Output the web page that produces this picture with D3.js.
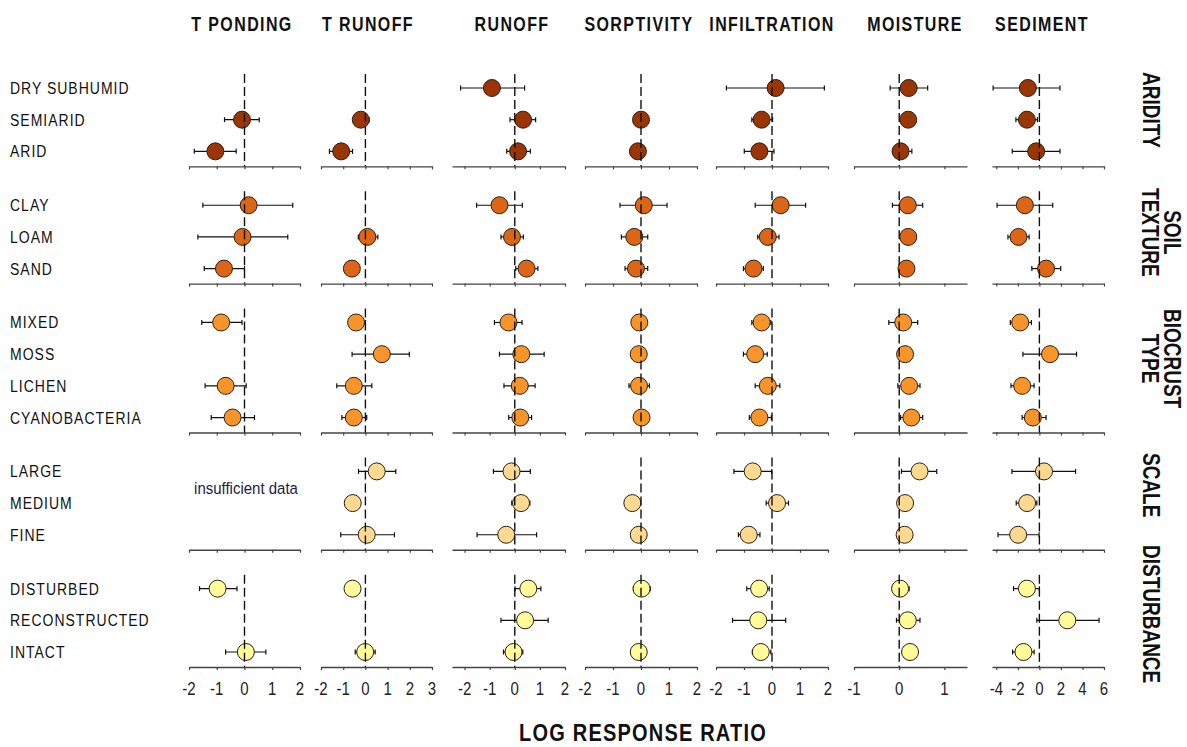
<!DOCTYPE html>
<html>
<head>
<meta charset="utf-8">
<script src="https://cdn.jsdelivr.net/npm/d3@7"></script>
<style>
  body { margin: 0; background: #fff; }
  text { font-family: "Liberation Sans", Arial, sans-serif; }
</style>
</head>
<body>
<script>
const width = 1187;
const height = 747;

// column (response variable) names
const columns = ["T PONDING", "T RUNOFF", "RUNOFF", "SORPTIVITY", "INFILTRATION", "MOISTURE", "SEDIMENT"];

// moderator groups and their levels
const groupNames = [["ARIDITY"], ["SOIL", "TEXTURE"], ["BIOCRUST", "TYPE"], ["SCALE"], ["DISTURBANCE"]];
const groupRows = [
  ["DRY SUBHUMID", "SEMIARID", "ARID"],
  ["CLAY", "LOAM", "SAND"],
  ["MIXED", "MOSS", "LICHEN", "CYANOBACTERIA"],
  ["LARGE", "MEDIUM", "FINE"],
  ["DISTURBED", "RECONSTRUCTED", "INTACT"]
];
const groupColors = ["#9a3506", "#dc6516", "#f7952a", "#fed98f", "#fffb99"];

// x domains and tick values for each column
const xDomains = [[-2, 2], [-2, 3], [-2.5, 2], [-2, 2], [-2, 2], [-1, 1.5], [-4.4, 6]];
const xTicks = [[-2, -1, 0, 1, 2], [-2, -1, 0, 1, 2, 3], [-2, -1, 0, 1, 2], [-2, -1, 0, 1, 2],
                [-2, -1, 0, 1, 2], [-1, 0, 1], [-4, -2, 0, 2, 4, 6]];

// [mean, lower, upper] per row (17 rows, same order as groupRows); null = no data
const tPonding = [
  null, [-0.09, -0.72, 0.53], [-1.05, -1.81, -0.30],
  [0.15, -1.50, 1.74], [-0.07, -1.68, 1.56], [-0.74, -1.45, 0.00],
  [-0.84, -1.54, -0.09], null, [-0.68, -1.42, 0.06], [-0.43, -1.20, 0.36],
  null, null, null,
  [-0.97, -1.62, -0.27], null, [0.05, -0.68, 0.77]
];
const tRunoff = [
  null, [-0.21, -0.54, 0.17], [-1.09, -1.62, -0.58],
  null, [0.09, -0.32, 0.56], [-0.61],
  [-0.42, -0.62, 0.00], [0.74, -0.60, 1.98], [-0.52, -1.29, 0.29], [-0.52, -1.06, 0.06],
  [0.51, -0.31, 1.37], [-0.57], [0.06, -1.11, 1.31],
  [-0.58], null, [-0.01, -0.46, 0.44]
];
const runoff = [
  [-0.91, -2.16, 0.39], [0.33, -0.19, 0.83], [0.13, -0.32, 0.62],
  [-0.61, -1.52, 0.30], [-0.11, -0.55, 0.34], [0.47, 0.04, 0.92],
  [-0.25, -0.81, 0.29], [0.26, -0.61, 1.17], [0.20, -0.43, 0.81], [0.22, -0.24, 0.67],
  [-0.13, -0.85, 0.62], [0.25, -0.12, 0.60], [-0.34, -1.50, 0.87],
  [0.54, 0.01, 1.04], [0.41, -0.55, 1.33], [-0.05, -0.45, 0.32]
];
const sorptivity = [
  null, [0.00], [-0.11],
  [0.10, -0.75, 0.93], [-0.24, -0.70, 0.24], [-0.18, -0.57, 0.24],
  [-0.06], [-0.08], [-0.07, -0.43, 0.30], [0.02],
  null, [-0.31], [-0.08],
  [0.02, -0.27, 0.33], null, [-0.08]
];
const infiltration = [
  [0.13, -1.63, 1.87], [-0.37, -0.72, 0.02], [-0.45, -0.99, 0.07],
  [0.31, -0.60, 1.20], [-0.15, -0.51, 0.25], [-0.66, -1.02, -0.31],
  [-0.37, -0.72, -0.04], [-0.60, -1.02, -0.17], [-0.15, -0.60, 0.28], [-0.45, -0.81, -0.02],
  [-0.69, -1.36, -0.01], [0.18, -0.21, 0.59], [-0.83, -1.20, -0.43],
  [-0.46, -0.90, -0.10], [-0.49, -1.41, 0.49], [-0.40, -0.70, -0.04]
];
const moisture = [
  [0.21, -0.20, 0.63], [0.20], [0.03, -0.13, 0.28],
  [0.19, -0.15, 0.52], [0.20], [0.16],
  [0.09, -0.23, 0.41], [0.13], [0.22, -0.03, 0.46], [0.27, 0.03, 0.52],
  [0.45, 0.05, 0.83], [0.13], [0.12],
  [0.02, -0.15, 0.22], [0.19, -0.06, 0.46], [0.24]
];
const sediment = [
  [-1.07, -4.30, 1.91], [-1.16, -2.18, -0.18], [-0.30, -2.52, 1.91],
  [-1.35, -3.93, 1.24], [-1.94, -2.92, -0.95], [0.62, -0.70, 1.98],
  [-1.78, -2.70, -0.74], [0.99, -1.53, 3.45], [-1.60, -2.64, -0.49], [-0.61, -1.60, 0.62],
  [0.43, -2.55, 3.36], [-1.14, -2.15, -0.24], [-1.97, -3.84, -0.03],
  [-1.16, -2.40, 0.00], [2.59, -0.24, 5.54], [-1.48, -2.49, -0.49]
];
const colData = [tPonding, tRunoff, runoff, sorptivity, infiltration, moisture, sediment];

// layout
const panelX = [[189, 300], [321, 432], [452, 565], [585, 697], [716, 828], [854, 967], [992, 1104]];
const headerX = [242, 368, 512, 639, 772, 915, 1042];
const groupLabelTop = [72, 188, 309, 453, 545];
const stretch = 1.22;   // text in the original is drawn tall & narrow
const r = 8.5;

const svg = d3.select('body')
  .append('svg')
  .attr('width', width)
  .attr('height', height);

// row positions: one slot per row, plus 0.7 slot between groups
const rows = [];
groupRows.forEach((g, gi) => g.forEach(name => {
  rows.push({name: name, group: gi, slot: rows.length + gi * 0.7});
}));
const y = d3.scaleLinear().domain([0, 17.8]).range([88, 652]);

const xScales = xDomains.map((d, i) => d3.scaleLinear().domain(d).range(panelX[i]));

// stretched text helper
function addText(parent, x, yy, str, sy) {
  return parent.append('text')
    .attr('transform', 'translate(' + x + ',' + yy + ') scale(1,' + sy + ')')
    .text(str);
}

// column headers
columns.forEach((c, i) => {
  addText(svg, headerX[i], 31, c, stretch)
    .attr('text-anchor', 'middle')
    .style('font-size', '16px')
    .style('font-weight', 'bold')
    .style('letter-spacing', '1.4px')
    .attr('fill', '#111');
});

// row labels
rows.forEach(d => {
  addText(svg, 10, y(d.slot) + 6, d.name, stretch)
    .style('font-size', '14px')
    .style('letter-spacing', '1px')
    .attr('fill', '#111');
});

// group panels
groupRows.forEach((g, gi) => {
  const gr = rows.filter(d => d.group === gi);
  const top = y(gr[0].slot) - 14;
  const axisY = y(gr[gr.length - 1].slot) + 15;

  columns.forEach((c, ci) => {
    const x = xScales[ci];
    const panel = svg.append('g').attr('class', 'panel');

    // axis line + ticks
    const axis = d3.axisBottom(x).tickValues(xTicks[ci]).tickSize(3).tickSizeOuter(0).tickFormat('');
    const ax = panel.append('g')
      .attr('transform', 'translate(0,' + axisY + ')')
      .call(axis);
    ax.select('.domain').attr('stroke', '#444').attr('stroke-width', 1.4);
    ax.selectAll('.tick line').attr('stroke', '#444').attr('stroke-width', 1.2);

    // tick labels only on bottom group
    if (gi === groupRows.length - 1) {
      xTicks[ci].forEach(t => {
        addText(panel, x(t), axisY + 28, String(t), 1.25)
          .attr('text-anchor', 'middle')
          .style('font-size', '15px')
          .attr('fill', '#222');
      });
    }

    const pts = gr.map(d => ({row: d, v: colData[ci][rows.indexOf(d)]})).filter(d => d.v);
    if (pts.length === 0) return;

    // error bars
    const eb = pts.filter(d => d.v.length === 3);
    panel.selectAll('line.err')
      .data(eb)
      .enter().append('line')
      .attr('x1', d => x(d.v[1]))
      .attr('x2', d => x(d.v[2]))
      .attr('y1', d => y(d.row.slot))
      .attr('y2', d => y(d.row.slot))
      .attr('stroke', '#111')
      .attr('stroke-width', 1.2);
    eb.forEach(d => {
      [d.v[1], d.v[2]].forEach(e => {
        panel.append('line')
          .attr('x1', x(e)).attr('x2', x(e))
          .attr('y1', y(d.row.slot) - 2.5).attr('y2', y(d.row.slot) + 2.5)
          .attr('stroke', '#111')
          .attr('stroke-width', 1.2);
      });
    });

    // points
    panel.selectAll('circle')
      .data(pts)
      .enter().append('circle')
      .attr('cx', d => x(d.v[0]))
      .attr('cy', d => y(d.row.slot))
      .attr('r', r)
      .attr('fill', groupColors[gi])
      .attr('stroke', '#2b2117')
      .attr('stroke-width', 1);

    // zero line, drawn on top like the original
    panel.append('line')
      .attr('x1', x(0)).attr('x2', x(0))
      .attr('y1', top).attr('y2', axisY)
      .attr('stroke', '#111')
      .attr('stroke-width', 1.4)
      .attr('stroke-dasharray', '9,4');
  });

  // group label on the right, rotated
  const lab = svg.append('g');
  const lines = groupNames[gi];
  const txts = lines.map((l, li) => lab.append('text')
    .attr('text-anchor', 'middle')
    .attr('y', li * 17)
    .style('font-size', '19px')
    .style('font-weight', 'bold')
    .attr('fill', '#111')
    .text(l));
  const maxLen = d3.max(txts, t => t.node().getComputedTextLength());
  const baseX = lines.length === 1 ? 1143 : 1164;
  lab.attr('transform', 'translate(' + baseX + ',' + (groupLabelTop[gi] + maxLen / 2) + ') rotate(90) scale(1,1.27)');
});

// insufficient data note
addText(svg, 246, 494, 'insufficient data', 1.12)
  .attr('text-anchor', 'middle')
  .style('font-size', '15px')
  .attr('fill', '#1d1b4a');

// x axis title
addText(svg, 643, 741, 'LOG RESPONSE RATIO', 1.15)
  .attr('text-anchor', 'middle')
  .style('font-size', '20px')
  .style('font-weight', 'bold')
  .style('letter-spacing', '1.2px')
  .attr('fill', '#111');
</script>
</body>
</html>
